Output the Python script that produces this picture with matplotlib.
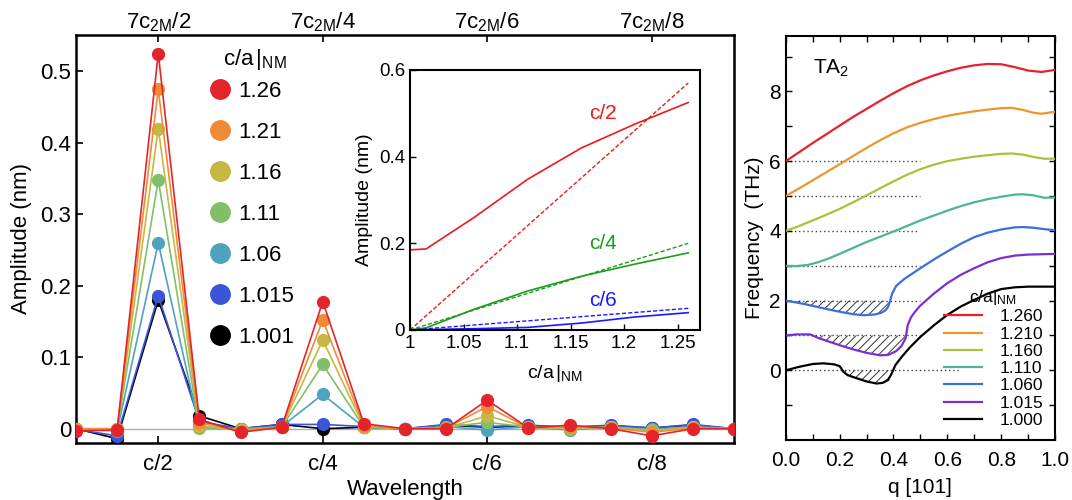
import matplotlib
matplotlib.use("Agg")
import matplotlib.pyplot as plt
from matplotlib.lines import Line2D
import numpy as np

plt.rcParams['font.family'] = ['Liberation Sans', 'DejaVu Sans']
plt.rcParams['mathtext.fontset'] = 'custom'
plt.rcParams['mathtext.rm'] = 'Liberation Sans'
plt.rcParams['mathtext.it'] = 'Liberation Sans:italic'
plt.rcParams['hatch.linewidth'] = 0.7

# ---------------- left panel data ----------------
ca_labels = ['1.26', '1.21', '1.16', '1.11', '1.06', '1.015', '1.001']
ca_colors = ['#e3242b', '#ee8c35', '#c6b843', '#82bf6a', '#4fa3bf', '#3a55d6', '#000000']
amp_126 = [-0.003, -0.002, 0.525, 0.013, -0.005, 0.002, 0.178, 0.007, 0.0, 0.0, 0.040, 0.001, 0.005, 0.0, -0.010, 0.0, 0.0]
amp_121 = [-0.001, 0.0, 0.475, 0.008, -0.003, 0.002, 0.152, 0.004, 0.0, 0.001, 0.031, 0.001, 0.003, 0.001, -0.005, 0.001, 0.0]
amp_116 = [0.0, 0.0, 0.420, 0.004, -0.002, 0.002, 0.124, 0.003, 0.0, 0.001, 0.018, 0.002, 0.001, 0.002, -0.003, 0.002, 0.0]
amp_111 = [0.0, 0.0, 0.348, 0.001, -0.001, 0.002, 0.090, 0.002, 0.0, 0.002, 0.009, 0.002, 0.0, 0.002, -0.002, 0.002, 0.0]
amp_106 = [0.0, -0.003, 0.260, 0.002, 0.0, 0.003, 0.048, 0.002, 0.0, 0.003, -0.002, 0.003, -0.002, 0.003, -0.001, 0.003, 0.0]
amp_1015 = [-0.001, -0.010, 0.186, 0.010, 0.0, 0.006, 0.006, 0.003, 0.0, 0.006, 0.003, 0.005, 0.002, 0.005, 0.001, 0.006, 0.0]
amp_1001 = [0.0, -0.014, 0.180, 0.018, 0.0, 0.006, 0.0, 0.002, 0.0, 0.005, 0.002, 0.004, 0.002, 0.004, 0.001, 0.005, 0.0]
amp_series = [amp_126, amp_121, amp_116, amp_111, amp_106, amp_1015, amp_1001]
wave_ticks = [2, 6, 10, 14]
wave_labels = ['c/2', 'c/4', 'c/6', 'c/8']
top_labels = [r'7c$_{\mathrm{2M}}$/2', r'7c$_{\mathrm{2M}}$/4', r'7c$_{\mathrm{2M}}$/6', r'7c$_{\mathrm{2M}}$/8']

# ---------------- inset data ----------------
inset_ca = [1.000, 1.015, 1.060, 1.110, 1.160, 1.210, 1.260]
inset_c2 = [0.185, 0.187, 0.260, 0.348, 0.420, 0.475, 0.525]
inset_c4 = [0.0, 0.005, 0.048, 0.090, 0.124, 0.152, 0.178]
inset_c6 = [0.0, 0.001, 0.003, 0.006, 0.016, 0.030, 0.040]
fit_ca = [1.0, 1.26]
fit_c2 = [0.0, 0.57]
fit_c4 = [0.0, 0.20]
fit_c6 = [0.0, 0.05]

# ---------------- right panel data ----------------
disp_labels = ['1.260', '1.210', '1.160', '1.110', '1.060', '1.015', '1.000']
disp_colors = ['#e8202a', '#f0952c', '#a8c23e', '#4bb594', '#3b6fdc', '#7b2fd0', '#000000']
disp_offsets = [6, 5, 4, 3, 2, 1, 0]
q_126 = [0, 0.05, 0.1, 0.15, 0.2, 0.25, 0.3, 0.35, 0.4, 0.45, 0.5, 0.55, 0.6, 0.65, 0.7, 0.75, 0.8, 0.85, 0.9, 0.95, 1.0]
f_126 = [6.0, 6.26, 6.52, 6.77, 7.02, 7.27, 7.5, 7.73, 7.95, 8.15, 8.32, 8.46, 8.58, 8.68, 8.75, 8.79, 8.78, 8.7, 8.6, 8.56, 8.62]
q_121 = [0, 0.05, 0.1, 0.15, 0.2, 0.25, 0.3, 0.35, 0.4, 0.45, 0.5, 0.55, 0.6, 0.65, 0.7, 0.75, 0.8, 0.84, 0.88, 0.92, 0.95, 1.0]
f_121 = [5.0, 5.22, 5.45, 5.68, 5.91, 6.15, 6.38, 6.6, 6.8, 6.97, 7.1, 7.21, 7.3, 7.37, 7.43, 7.48, 7.52, 7.53, 7.47, 7.39, 7.36, 7.42]
q_116 = [0, 0.05, 0.1, 0.15, 0.2, 0.25, 0.3, 0.35, 0.4, 0.45, 0.5, 0.55, 0.6, 0.65, 0.7, 0.75, 0.8, 0.84, 0.88, 0.92, 0.96, 1.0]
f_116 = [4.0, 4.14, 4.3, 4.46, 4.63, 4.82, 5.02, 5.22, 5.42, 5.61, 5.77, 5.9, 6.0, 6.07, 6.13, 6.17, 6.21, 6.22, 6.19, 6.12, 6.07, 6.07]
q_111 = [0, 0.04, 0.08, 0.12, 0.16, 0.2, 0.25, 0.3, 0.35, 0.4, 0.45, 0.5, 0.55, 0.6, 0.65, 0.7, 0.75, 0.8, 0.85, 0.88, 0.92, 0.96, 1.0]
f_111 = [3.0, 2.99, 3.02, 3.1, 3.21, 3.34, 3.51, 3.68, 3.83, 3.98, 4.14, 4.3, 4.44, 4.58, 4.71, 4.82, 4.91, 4.98, 5.04, 5.05, 5.02, 4.95, 4.96]
q_106 = [0, 0.05, 0.1, 0.15, 0.2, 0.25, 0.29, 0.33, 0.355, 0.37, 0.38, 0.387, 0.395, 0.41, 0.44, 0.5, 0.55, 0.6, 0.65, 0.7, 0.75, 0.8, 0.85, 0.88, 0.92, 0.96, 1.0]
f_106 = [2.0, 1.93, 1.85, 1.76, 1.68, 1.61, 1.58, 1.6, 1.65, 1.72, 1.82, 1.98, 2.2, 2.42, 2.62, 2.93, 3.18, 3.41, 3.63, 3.82, 3.95, 4.04, 4.1, 4.11, 4.09, 4.05, 4.02]
q_1015 = [0, 0.04, 0.09, 0.12, 0.15, 0.2, 0.25, 0.3, 0.35, 0.38, 0.41, 0.43, 0.445, 0.453, 0.465, 0.48, 0.5, 0.55, 0.6, 0.65, 0.7, 0.75, 0.8, 0.85, 0.9, 1.0]
f_1015 = [1.0, 1.03, 1.03, 0.93, 0.85, 0.72, 0.6, 0.5, 0.43, 0.44, 0.55, 0.7, 0.92, 1.3, 1.52, 1.68, 1.86, 2.2, 2.5, 2.74, 2.93, 3.1, 3.22, 3.29, 3.32, 3.34]
q_1000 = [0, 0.05, 0.1, 0.14, 0.18, 0.2, 0.215, 0.23, 0.26, 0.3, 0.337, 0.36, 0.38, 0.394, 0.407, 0.43, 0.46, 0.5, 0.55, 0.6, 0.65, 0.7, 0.75, 0.8, 0.85, 0.9, 1.0]
f_1000 = [0.0, 0.1, 0.18, 0.2, 0.17, 0.12, -0.05, -0.14, -0.22, -0.32, -0.38, -0.36, -0.28, -0.08, 0.15, 0.38, 0.65, 0.96, 1.29, 1.59, 1.83, 2.02, 2.2, 2.33, 2.38, 2.4, 2.4]
disp_q = [q_126, q_121, q_116, q_111, q_106, q_1015, q_1000]
disp_f = [f_126, f_121, f_116, f_111, f_106, f_1015, f_1000]
dot_ends = [0.5, 0.5, 0.49, 0.5, 0.5, 0.5, 0.65]

fig = plt.figure(figsize=(10.72, 5.0), dpi=100)

# ================= left panel =================
ax = fig.add_axes([0.0709, 0.114, 0.6138, 0.816])
x = np.arange(len(amp_126))
ax.axhline(0, color='#b0b0b0', lw=1.0, zorder=1)
for ser, col in list(zip(amp_series, ca_colors))[::-1]:
    ax.plot(x, ser, '-o', color=col, lw=1.2, ms=8.5, zorder=3)
ax.set_xlim(0, 16)
ax.set_ylim(-0.02, 0.551)
ax.set_yticks([0, 0.1, 0.2, 0.3, 0.4, 0.5])
ax.set_yticklabels(['0', '0.1', '0.2', '0.3', '0.4', '0.5'])
ax.set_xticks(wave_ticks)
ax.set_xticklabels(wave_labels)
ax.tick_params(direction='in', labelsize=16, width=1.2, length=5, top=False)
ax.tick_params(axis='x', pad=8)
ax.set_ylabel('Amplitude (nm)', fontsize=16, labelpad=6)
ax.set_xlabel('Wavelength', fontsize=16, labelpad=3)
for s in ax.spines.values():
    s.set_linewidth(1.8)
axt = ax.secondary_xaxis('top')
axt.set_xticks(wave_ticks)
axt.set_xticklabels(top_labels)
axt.tick_params(direction='in', labelsize=16, width=1.2, length=5, pad=1)

handles = [Line2D([], [], marker='o', ls='none', color=c, ms=14) for c in ca_colors]
ax.text(0.272, 0.939, r'c/a$\,|_{\mathrm{NM}}$', transform=ax.transAxes, fontsize=16,
        ha='center', va='center')
leg = ax.legend(handles, ca_labels, loc='upper left',
                bbox_to_anchor=(0.175, 0.926), frameon=False, fontsize=16,
                labelspacing=0.9, handletextpad=0.2,
                handlelength=1.2, borderpad=0.2)

# ================= inset =================
axi = fig.add_axes([0.3825, 0.34, 0.2705, 0.52])
axi.plot(inset_ca, inset_c2, color='#f01818', lw=1.2)
axi.plot(inset_ca, inset_c4, color='#1a9e1a', lw=1.2)
axi.plot(inset_ca, inset_c6, color='#1a1aff', lw=1.2)
axi.plot(fit_ca, fit_c2, color='#f01818', lw=1.0, ls=(0, (3, 1.5)))
axi.plot(fit_ca, fit_c4, color='#1a9e1a', lw=1.0, ls=(0, (3, 1.5)))
axi.plot(fit_ca, fit_c6, color='#1a1aff', lw=1.0, ls=(0, (3, 1.5)))
axi.text(1.18, 0.50, 'c/2', color='#f01818', fontsize=15, ha='center', va='center')
axi.text(1.18, 0.20, 'c/4', color='#1a9e1a', fontsize=15, ha='center', va='center')
axi.text(1.18, 0.069, 'c/6', color='#1a1aff', fontsize=15, ha='center', va='center')
axi.set_xlim(1.0, 1.271)
axi.set_ylim(0, 0.6)
axi.set_xticks([1.0, 1.05, 1.1, 1.15, 1.2, 1.25])
axi.set_xticklabels(['1', '1.05', '1.1', '1.15', '1.2', '1.25'])
axi.set_yticks([0, 0.2, 0.4, 0.6])
axi.set_yticklabels(['0', '0.2', '0.4', '0.6'])
axi.tick_params(direction='in', labelsize=13.5, width=1.0, length=4)
axi.set_xlabel(r'c/a$\,|_{\mathrm{NM}}$', fontsize=14, labelpad=8)
axi.set_ylabel('Amplitude (nm)', fontsize=14, labelpad=4)
for s in axi.spines.values():
    s.set_linewidth(1.5)

# ================= right panel =================
axr = fig.add_axes([0.733, 0.12, 0.2512, 0.8086])
for off, end in zip(disp_offsets, dot_ends):
    axr.plot([0, end], [off, off], color='#444444', lw=1.0, ls=(0, (1, 2)), zorder=1)
for qq, ff, off, col, lab in zip(disp_q, disp_f, disp_offsets, disp_colors, disp_labels):
    qa = np.array(qq)
    fa = np.array(ff)
    axr.fill_between(qa, fa, off, where=fa < off, interpolate=True, facecolor='none',
                     edgecolor='#333333', hatch='////', lw=0, zorder=1)
    axr.plot(qa, fa, color=col, lw=1.6, label=lab, zorder=3)
axr.set_xlim(0, 1.0)
axr.set_ylim(-2.0, 9.6)
axr.set_xticks([0, 0.2, 0.4, 0.6, 0.8, 1.0])
axr.set_xticklabels(['0.0', '0.2', '0.4', '0.6', '0.8', '1.0'])
axr.set_xticks(np.arange(0.1, 1.0, 0.2), minor=True)
axr.set_yticks([0, 2, 4, 6, 8])
axr.set_yticks([-1, 1, 3, 5, 7, 9], minor=True)
axr.tick_params(which='both', direction='in', top=True, right=True, labelsize=15,
                length=4, width=1.0)
axr.tick_params(axis='x', pad=8)
axr.set_xlabel('q [101]', fontsize=15, labelpad=6)
axr.set_ylabel('Frequency  (THz)', fontsize=15, labelpad=4)
axr.text(0.1, 8.65, r'TA$_2$', fontsize=15, ha='left', va='center')
for s in axr.spines.values():
    s.set_linewidth(1.5)
axr.legend(title=r'c/a$|_{\mathrm{NM}}$', loc='lower right', frameon=False, fontsize=12.5,
           title_fontsize=12.5, labelspacing=0.12, handlelength=2.2, handletextpad=1.0,
           borderpad=0.2, bbox_to_anchor=(1.0, 0.0))

fig.savefig('out.png', dpi=100)
